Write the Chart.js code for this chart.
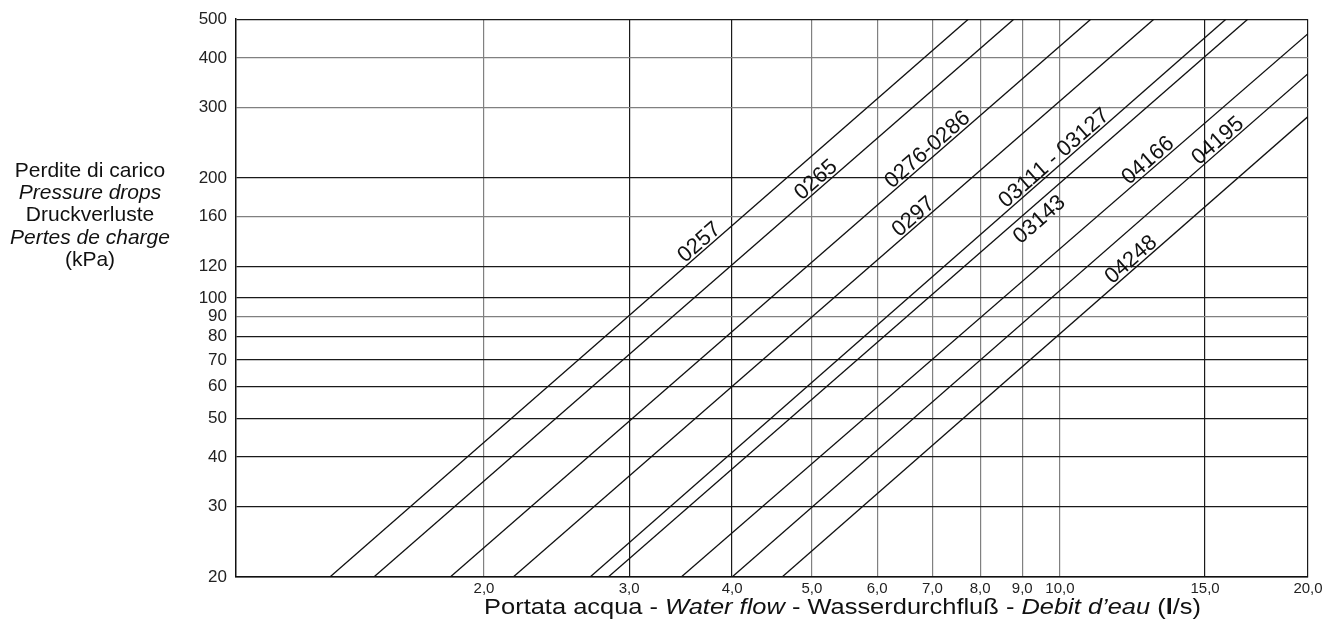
<!DOCTYPE html>
<html>
<head>
<meta charset="utf-8">
<script src="https://cdn.jsdelivr.net/npm/chart.js@4.4.1/dist/chart.umd.min.js"></script>
<style>
  html, body { margin: 0; padding: 0; background: #fff; }
  #wrap { position: relative; width: 1326px; height: 639px; }
</style>
</head>
<body>
<div id="wrap"><canvas id="chart"></canvas></div>
<script>
// Unit models, one pressure-drop curve each
const modelNames = ['0257', '0265', '0276-0286', '0297', '03111 - 03127', '03143', '04166', '04195', '04248'];
// Water flow (l/s) and pressure drop (kPa) at the two ends of every curve
const flowStart = [1.30, 1.47, 1.82, 2.17, 2.69, 2.83, 3.47, 4.00, 4.60];
const dropStart = [20, 20, 20, 20, 20, 20, 20, 20, 20];
const flowEnd   = [7.74, 8.79, 10.9, 13.0, 15.9, 16.9, 20, 20, 20];
const dropEnd   = [500, 500, 500, 500, 500, 500, 460, 365, 285];
// Axis ticks
const xTickValues = [2, 3, 4, 5, 6, 7, 8, 9, 10, 15, 20];
const yTickValues = [20, 30, 40, 50, 60, 70, 80, 90, 100, 120, 160, 200, 300, 400, 500];

// Where each model name sits along its curve (flow value) and on which side
const labelFlow = [3.71, 5.14, 7.02, 6.75, 10.0, 9.2, 13.0, 15.8, 12.4];
const labelSide = [1, 1, 1, 1, 1, -1, 1, 1, 1];

const FONT = "'Liberation Sans', Arial, sans-serif";
const LABEL_SIZE = 22;
const darkX = [3, 4, 15, 20];
const lightY = [90, 160, 300, 400];

const datasets = modelNames.map((name, i) => ({
  label: name,
  data: [{ x: flowStart[i], y: dropStart[i] }, { x: flowEnd[i], y: dropEnd[i] }],
  borderColor: '#111',
  borderWidth: 1.3,
  pointRadius: 0,
  tension: 0,
  fill: false
}));

// Model names written along the curves, plus the multilingual axis titles
const annotate = {
  id: 'annotate',
  afterDatasetsDraw(chart) {
    const ctx = chart.ctx;
    const xs = chart.scales.x, ys = chart.scales.y;
    ctx.save();
    ctx.fillStyle = '#111';
    ctx.font = LABEL_SIZE + 'px ' + FONT;
    ctx.textAlign = 'center';
    ctx.textBaseline = 'alphabetic';
    modelNames.forEach((name, i) => {
      const lq0 = Math.log10(flowStart[i]), lq1 = Math.log10(flowEnd[i]);
      const lp0 = Math.log10(dropStart[i]), lp1 = Math.log10(dropEnd[i]);
      const lq = Math.log10(labelFlow[i]);
      const lp = lp0 + (lq - lq0) * (lp1 - lp0) / (lq1 - lq0);
      const px = xs.getPixelForValue(labelFlow[i]);
      const py = ys.getPixelForValue(Math.pow(10, lp));
      const ax = xs.getPixelForValue(flowStart[i]), ay = ys.getPixelForValue(dropStart[i]);
      const bx = xs.getPixelForValue(flowEnd[i]), by = ys.getPixelForValue(dropEnd[i]);
      const ang = Math.atan2(by - ay, bx - ax);
      const off = labelSide[i] > 0 ? 10.5 : -12.5;
      ctx.save();
      ctx.translate(px, py);
      ctx.rotate(ang);
      ctx.fillText(name, 0, -off + 0.358 * LABEL_SIZE);
      ctx.restore();
    });

    // Y axis title
    const yLines = [
      ['Perdite di carico', ''], ['Pressure drops', 'italic '], ['Druckverluste', ''],
      ['Pertes de charge', 'italic '], ['(kPa)', '']
    ];
    ctx.fillStyle = '#111';
    ctx.textAlign = 'center';
    yLines.forEach((ln, k) => {
      ctx.font = ln[1] + '21px ' + FONT;
      ctx.fillText(ln[0], 90, 176.5 + k * 22.4);
    });

    // X axis title with mixed styles, spread between the 2,0 and 15,0 ticks
    const parts = [
      ['Portata acqua - ', ''], ['Water flow', 'italic '], [' - Wasserdurchfluß - ', ''],
      ['Debit d’eau', 'italic '], [' (', ''], ['l', 'bold '], ['/s)', '']
    ];
    ctx.textAlign = 'left';
    let total = 0;
    parts.forEach(p => { ctx.font = p[1] + '22px ' + FONT; total += ctx.measureText(p[0]).width; });
    const left = xs.getPixelForValue(2), right = xs.getPixelForValue(15) - 4;
    const sx = (right - left) / total;
    ctx.save();
    ctx.translate(left, 614);
    ctx.scale(sx, 1);
    let x = 0;
    parts.forEach(p => {
      ctx.font = p[1] + '22px ' + FONT;
      ctx.fillText(p[0], x, 0);
      x += ctx.measureText(p[0]).width;
    });
    ctx.restore();
    ctx.restore();
  }
};

new Chart(document.getElementById('chart'), {
  type: 'line',
  data: { datasets },
  options: {
    responsive: true,
    maintainAspectRatio: false,
    animation: false,
    layout: { padding: { top: 19, right: 18, left: 0, bottom: 0 } },
    plugins: { legend: { display: false }, tooltip: { enabled: false }, title: { display: false } },
    scales: {
      x: {
        type: 'logarithmic',
        min: 1, max: 20,
        afterBuildTicks: s => { s.ticks = xTickValues.map(v => ({ value: v })); },
        afterFit: s => { s.height = 62; },
        ticks: {
          autoSkip: false, maxRotation: 0, padding: 3, color: '#222',
          font: { family: FONT, size: 15 },
          callback: v => Number(v).toFixed(1).replace('.', ',')
        },
        grid: {
          drawTicks: false,
          lineWidth: 1.2,
          color: c => (c.tick && darkX.includes(c.tick.value)) ? '#1a1a1a' : '#808080'
        },
        border: { color: '#111', width: 1.5 }
      },
      y: {
        type: 'logarithmic',
        min: 20, max: 500,
        afterBuildTicks: s => { s.ticks = yTickValues.map(v => ({ value: v })); },
        afterFit: s => { s.width = 236; },
        ticks: {
          autoSkip: false, padding: 9, color: '#222',
          font: { family: FONT, size: 17 },
          callback: v => String(v)
        },
        grid: {
          drawTicks: false,
          lineWidth: 1.2,
          color: c => (c.tick && lightY.includes(c.tick.value)) ? '#808080' : '#1a1a1a'
        },
        border: { color: '#111', width: 1.5 }
      }
    }
  },
  plugins: [annotate]
});
</script>
</body>
</html>
